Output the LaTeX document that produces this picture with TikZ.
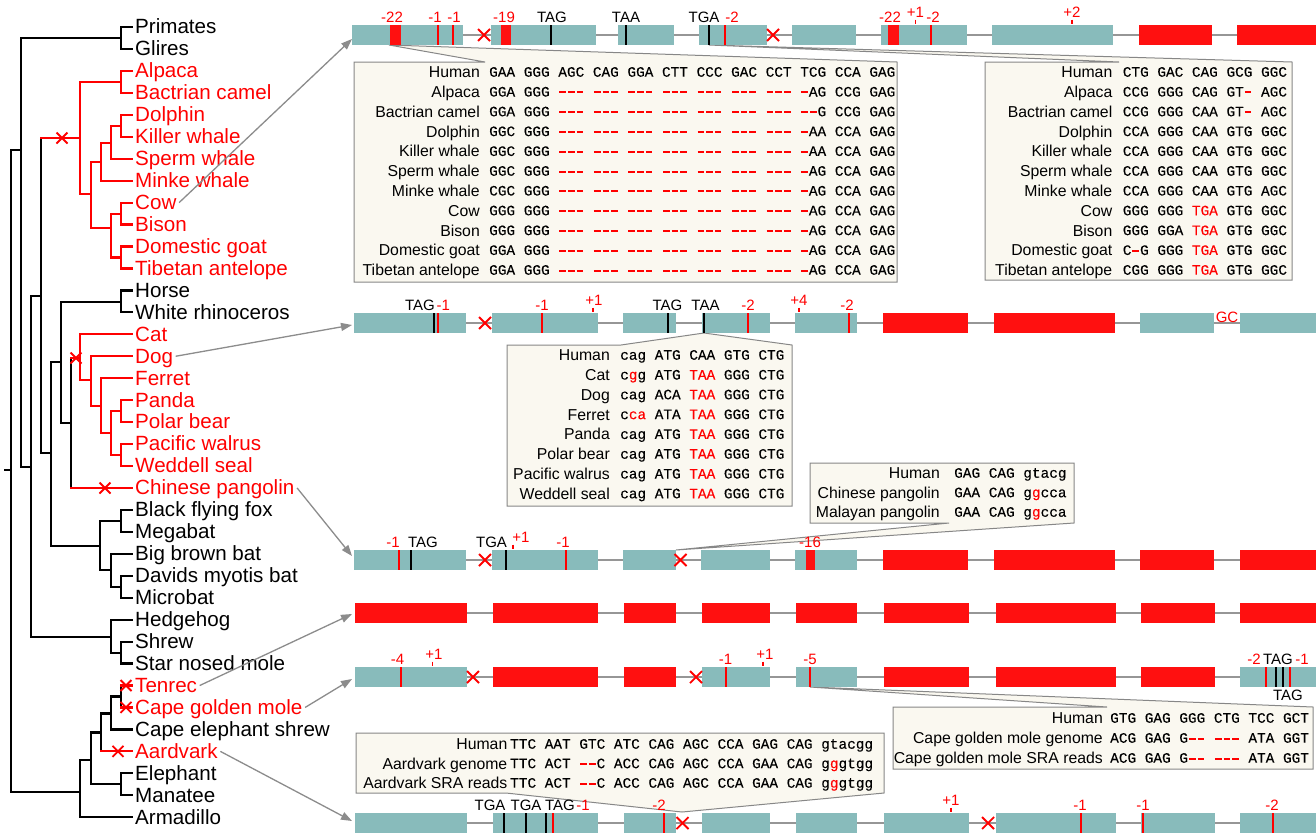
\documentclass[tikz,border=0pt]{standalone}
\usepackage{fontspec}
\setmainfont{Liberation Sans}
\setmonofont{Liberation Mono}[FakeBold=0.2]
\usetikzlibrary{arrows.meta}
\definecolor{exon}{RGB}{136,187,187}
\definecolor{exred}{RGB}{255,16,16}
\definecolor{mred}{RGB}{255,0,0}
\definecolor{intr}{RGB}{150,150,150}
\definecolor{cfill}{RGB}{250,248,240}
\definecolor{cline}{RGB}{135,135,135}
\definecolor{agray}{RGB}{140,140,140}
\newcommand\R[1]{\textcolor{mred}{#1}}
\newcommand\dsh{\makebox[0.6em]{\rule[0.22em]{0.46em}{0.14em}}}
\newcommand\ddd{\dsh\dsh\dsh}
\newcommand\delA{\R{\ddd{} \ddd{} \ddd{} \ddd{} \ddd{} \ddd{} \ddd{} \dsh}}
\newcommand\delB{\R{\ddd{} \ddd{} \ddd{} \ddd{} \ddd{} \ddd{} \ddd{} \dsh\dsh}}
\newcommand\Xm[3]{\draw[xline] (#1-#3,#2-#3) -- (#1+#3,#2+#3) (#1-#3,#2+#3) -- (#1+#3,#2-#3);}
\tikzset{
 tb/.style={line width=2.2pt, line cap=rect, line join=miter},
 xline/.style={draw=mred, line width=1.8pt},
 leaf/.style={anchor=west, inner xsep=2.5pt, inner ysep=0pt, text height=14.3pt, text depth=0.6pt, font=\fontsize{20.6}{24}\selectfont},
 callout/.style={fill=cfill, draw=cline, line width=1pt, line join=miter},
 blab/.style={anchor=east, inner sep=0pt, text height=11.3pt, text depth=0pt, font=\fontsize{15.8}{19}\selectfont},
 sq/.style={anchor=west, inner sep=0pt, text height=9.4pt, text depth=0pt, font=\ttfamily\fontsize{14.4}{17}\selectfont},
 elab/.style={anchor=base, inner sep=0pt, font=\fontsize{15}{17}\selectfont},
 rlab/.style={elab, text=mred},
 tickm/.style={draw=mred, line width=1.2pt},
 mk/.style={line width=2pt},
 intron/.style={draw=intr, line width=2pt},
 garrow/.style={draw=agray, line width=1.3pt, -{Triangle[length=11pt,width=8pt]}}
}
\begin{document}
\begin{tikzpicture}[x=1pt,y=-1pt]
\useasboundingbox (0,0) rectangle (1316,833);
\fill[white] (0,0) rectangle (1316,833);

% ---------------- callout boxes ----------------
\draw[callout] (354,62) -- (485,62) -- (389,45) -- (897,62) -- (897,282) -- (354,282) -- cycle;
\draw[callout] (985,62) -- (1119,62) -- (709,45) -- (1292,62) -- (1292,280) -- (985,280) -- cycle;
\draw[callout] (507,345) -- (621,345) -- (704,333) -- (792,345) -- (792,506) -- (507,506) -- cycle;
\draw[callout] (810,463) -- (1074,463) -- (1074,523) -- (676,550) -- (949,523) -- (810,523) -- cycle;
\draw[callout] (893,707) -- (1107,707) -- (810,687) -- (1313,707) -- (1313,769) -- (893,769) -- cycle;
\draw[callout] (356,733) -- (884,733) -- (884,793) -- (682,812) -- (506,793) -- (356,793) -- cycle;

% ---------------- row 1 ----------------
\draw[intron] (352,35) -- (1316,35);
\foreach \a/\b/\c in {352/463/exon,491/596/exon,618/674/exon,699/767/exon,792/856/exon,881/967/exon,992/1113/exon,1139/1212/exred,1237/1316/exred}
  \fill[\c] (\a,25) rectangle (\b,45);
\fill[exred] (390,25) rectangle (400.5,45);
\fill[exred] (500.5,25) rectangle (510.5,45);
\fill[exred] (888,25) rectangle (899,45);
\draw[mk,mred] (438,25) -- (438,45);
\draw[mk,mred] (452.5,25) -- (452.5,45);
\draw[mk,black] (551,25) -- (551,45);
\draw[mk,black] (625.6,25) -- (625.6,45);
\draw[mk,black] (708.6,25) -- (708.6,45);
\draw[mk,mred] (725,25) -- (725,45);
\draw[mk,mred] (931,25) -- (931,45);
\draw[tickm] (915.5,19.5) -- (915.5,23.5);
\draw[tickm] (1072,19.5) -- (1072,23.5);
\Xm{484}{35}{6}
\Xm{773}{35}{6}
\node[rlab] (r1a) at (392,22.5) {-22};
\node[rlab] (r1b) at (435,22.5) {-1};
\node[rlab] (r1c) at (454,22.5) {-1};
\node[rlab] (r1d) at (504,22.5) {-19};
\node[elab] (r1e) at (552,22.5) {TAG};
\node[elab] (r1f) at (626,22.5) {TAA};
\node[elab] (r1g) at (704,22.5) {TGA};
\node[rlab] (r1h) at (732,22.5) {-2};
\node[rlab] (r1i) at (890,22.5) {-22};
\node[rlab] (r1j) at (915.5,17) {+1};
\node[rlab] (r1k) at (933,22.5) {-2};
\node[rlab] (r1l) at (1072,17) {+2};

% ---------------- row 2 ----------------
\draw[intron] (354,323) -- (1316,323);
\foreach \a/\b/\c in {354/466/exon,492/598/exon,623/676/exon,702/770/exon,795/857/exon,883/968/exred,994/1115/exred,1140/1214/exon,1240/1316/exon}
  \fill[\c] (\a,313) rectangle (\b,333);
\draw[mk,black] (434,313) -- (434,333);
\draw[mk,mred] (438,313) -- (438,333);
\draw[mk,mred] (542,313) -- (542,333);
\draw[mk,black] (668,313) -- (668,333);
\draw[mk,black] (704,313) -- (704,333);
\draw[mk,mred] (748,313) -- (748,333);
\draw[mk,mred] (849,313) -- (849,333);
\draw[tickm] (593,307.5) -- (593,311.5);
\draw[tickm] (799,307.5) -- (799,311.5);
\Xm{485}{323}{6}
\node[elab,anchor=base east] (r2a) at (435,310.5) {TAG};
\node[rlab,anchor=base west] (r2b) at (436.5,310.5) {-1};
\node[rlab] (r2c) at (542,310.5) {-1};
\node[rlab] (r2d) at (594,305) {+1};
\node[elab] (r2e) at (667.5,310.5) {TAG};
\node[elab] (r2f) at (705.5,310.5) {TAA};
\node[rlab] (r2g) at (748,310.5) {-2};
\node[rlab] (r2h) at (799,305) {+4};
\node[rlab] (r2i) at (847,310.5) {-2};
\node[rlab] (r2j) at (1227,322) {GC};

% ---------------- row 3 ----------------
\draw[intron] (354,560) -- (1316,560);
\foreach \a/\b/\c in {354/466/exon,492/598/exon,623/676/exon,701/770/exon,795/857/exon,883/968/exred,994/1115/exred,1140/1214/exred,1240/1316/exred}
  \fill[\c] (\a,550) rectangle (\b,570);
\fill[exred] (805.5,550) rectangle (815,570);
\draw[mk,mred] (399,550) -- (399,570);
\draw[mk,black] (410.6,550) -- (410.6,570);
\draw[mk,black] (506,550) -- (506,570);
\draw[mk,mred] (566,550) -- (566,570);
\draw[tickm] (513,544.5) -- (513,548.5);
\Xm{485}{560}{6}
\Xm{680.5}{560}{6}
\node[rlab] (r3a) at (393,547.5) {-1};
\node[elab] (r3b) at (423,547.5) {TAG};
\node[elab] (r3c) at (491.5,547.5) {TGA};
\node[rlab] (r3d) at (521,542) {+1};
\node[rlab] (r3e) at (563,547.5) {-1};
\node[rlab] (r3f) at (810,547.5) {-16};

% ---------------- row 4 ----------------
\draw[intron] (355,613) -- (1316,613);
\foreach \a/\b in {355/467,493/598,624/676,702/770,796/857,884/969,996/1116,1141/1215,1240/1316}
  \fill[exred] (\a,603) rectangle (\b,623);

% ---------------- row 5 ----------------
\draw[intron] (355,677) -- (1316,677);
\foreach \a/\b/\c in {355/467/exon,493/598/exred,624/676/exred,702/770/exon,796/857/exon,884/969/exred,996/1116/exred,1141/1215/exred,1240/1316/exon}
  \fill[\c] (\a,667) rectangle (\b,687);
\draw[mk,mred] (401,667) -- (401,687);
\draw[mk,mred] (725.5,667) -- (725.5,687);
\draw[mk,mred] (810,667) -- (810,687);
\draw[mk,mred] (1266,667) -- (1266,687);
\draw[mk,black] (1276,667) -- (1276,687);
\draw[mk,black] (1282.5,667) -- (1282.5,687);
\draw[mk,mred] (1290,667) -- (1290,687);
\draw[tickm] (432.5,661.5) -- (432.5,665.5);
\draw[tickm] (763,661.5) -- (763,665.5);
\Xm{473}{677}{6}
\Xm{696}{677}{6}
\node[rlab] (r5a) at (397.5,664.5) {-4};
\node[rlab] (r5b) at (434,659) {+1};
\node[rlab] (r5c) at (725.5,664.5) {-1};
\node[rlab] (r5d) at (765,659) {+1};
\node[rlab] (r5e) at (810,664.5) {-5};
\node[rlab] (r5f) at (1254,664.5) {-2};
\node[elab] (r5g) at (1278,664.5) {TAG};
\node[rlab] (r5h) at (1302,664.5) {-1};
\node[elab] (r5i) at (1288,700.5) {TAG};

% ---------------- row 6 ----------------
\draw[intron] (355,823) -- (1316,823);
\foreach \a/\b in {355/467,493/598,624/676,702/770,796/857,884/969,996/1116,1141/1215,1240/1316}
  \fill[exon] (\a,813) rectangle (\b,833);
\draw[mk,black] (504,813) -- (504,833);
\draw[mk,black] (526,813) -- (526,833);
\draw[mk,black] (546,813) -- (546,833);
\draw[mk,mred] (552.5,813) -- (552.5,833);
\draw[mk,mred] (664,813) -- (664,833);
\draw[mk,mred] (1080.5,813) -- (1080.5,833);
\draw[mk,mred] (1143,813) -- (1143,833);
\draw[mk,mred] (1272.5,813) -- (1272.5,833);
\draw[tickm] (951,807.5) -- (951,811.5);
\Xm{682.5}{823}{6}
\Xm{988}{823}{6}
\node[elab] (r6a) at (490,810.5) {TGA};
\node[elab] (r6b) at (526,810.5) {TGA};
\node[elab] (r6c) at (560,810.5) {TAG};
\node[rlab] (r6d) at (583,810.5) {-1};
\node[rlab] (r6e) at (659,810.5) {-2};
\node[rlab] (r6f) at (951,805) {+1};
\node[rlab] (r6g) at (1080,810.5) {-1};
\node[rlab] (r6h) at (1143,810.5) {-1};
\node[rlab] (r6i) at (1272,810.5) {-2};

% ---------------- box texts ----------------
\foreach \k/\n/\s in {0/Human/{GAA GGG AGC CAG GGA CTT CCC GAC CCT TCG CCA GAG},
 1/Alpaca/{GGA GGG \delA AG CCG GAG},
 2/Bactrian camel/{GGA GGG \delB G CCG GAG},
 3/Dolphin/{GGC GGG \delA AA CCA GAG},
 4/Killer whale/{GGC GGG \delA AA CCA GAG},
 5/Sperm whale/{GGC GGG \delA AG CCA GAG},
 6/Minke whale/{CGC GGG \delA AG CCA GAG},
 7/Cow/{GGG GGG \delA AG CCA GAG},
 8/Bison/{GGG GGG \delA AG CCA GAG},
 9/Domestic goat/{GGA GGG \delA AG CCA GAG},
 10/Tibetan antelope/{GGA GGG \delA AG CCA GAG}}
{
 \node[blab] (bal\k) at (480,72+19.8*\k) {\n};
 \node[sq] (bas\k) at (489,72+19.8*\k) {\s};
}
\foreach \k/\n/\s in {0/Human/{CTG GAC CAG GCG GGC},
 1/Alpaca/{CCG GGG CAG GT\R{\dsh} AGC},
 2/Bactrian camel/{CCG GGG CAA GT\R{\dsh} AGC},
 3/Dolphin/{CCA GGG CAA GTG GGC},
 4/Killer whale/{CCA GGG CAA GTG GGC},
 5/Sperm whale/{CCA GGG CAA GTG GGC},
 6/Minke whale/{CCA GGG CAA GTG AGC},
 7/Cow/{GGG GGG \R{TGA} GTG GGC},
 8/Bison/{GGG GGA \R{TGA} GTG GGC},
 9/Domestic goat/{C\R{\dsh}G GGG \R{TGA} GTG GGC},
 10/Tibetan antelope/{CGG GGG \R{TGA} GTG GGC}}
{
 \node[blab] (bbl\k) at (1112.5,72+19.8*\k) {\n};
 \node[sq] (bbs\k) at (1122.6,72+19.8*\k) {\s};
}
\foreach \k/\n/\s in {0/Human/{cag ATG CAA GTG CTG},
 1/Cat/{c\R{g}g ATG \R{TAA} GGG CTG},
 2/Dog/{cag ACA \R{TAA} GGG CTG},
 3/Ferret/{c\R{ca} ATA \R{TAA} GGG CTG},
 4/Panda/{cag ATG \R{TAA} GGG CTG},
 5/Polar bear/{cag ATG \R{TAA} GGG CTG},
 6/Pacific walrus/{cag ATG \R{TAA} GGG CTG},
 7/Weddell seal/{cag ATG \R{TAA} GGG CTG}}
{
 \node[blab] (bcl\k) at (610,355+19.8*\k) {\n};
 \node[sq] (bcs\k) at (620,355+19.8*\k) {\s};
}
\foreach \k/\n/\s in {0/Human/{GAG CAG gtacg},
 1/Chinese pangolin/{GAA CAG g\R{g}cca},
 2/Malayan pangolin/{GAA CAG g\R{g}cca}}
{
 \node[blab] (bdl\k) at (940,473+19.5*\k) {\n};
 \node[sq] (bds\k) at (954,473+19.5*\k) {\s};
}
\foreach \k/\n/\s in {0/Human/{GTG GAG GGG CTG TCC GCT},
 1/Cape golden mole genome/{ACG GAG G\R{\dsh\dsh} \R{\ddd} ATA GGT},
 2/Cape golden mole SRA reads/{ACG GAG G\R{\dsh\dsh} \R{\ddd} ATA GGT}}
{
 \node[blab] (bel\k) at (1103,718+20*\k) {\n};
 \node[sq] (bes\k) at (1110,718+20*\k) {\s};
}
\foreach \k/\n/\s in {0/Human/{TTC AAT GTC ATC CAG AGC CCA GAG CAG gtacgg},
 1/Aardvark genome/{TTC ACT \R{\dsh\dsh}C ACC CAG AGC CCA GAA CAG g\R{g}gtgg},
 2/Aardvark SRA reads/{TTC ACT \R{\dsh\dsh}C ACC CAG AGC CCA GAA CAG g\R{g}gtgg}}
{
 \node[blab] (bfl\k) at (507.5,744+19.5*\k) {\n};
 \node[sq] (bfs\k) at (510,744+19.5*\k) {\s};
}

% ---------------- tree (black) ----------------
\begin{scope}[tb]
\draw (132,27) -- (121,27) -- (121,48.95) -- (132,48.95);
\draw (121,38) -- (21,38) -- (21,467) -- (31,467);
\draw (5,470) -- (11,470);
\draw (21,150) -- (11,150) -- (11,792) -- (80,792);
\draw (41,296) -- (31,296) -- (31,637) -- (111,637);
\draw (41,138) -- (41,453) -- (51,453);
\draw (61,362) -- (51,362) -- (51,546) -- (100,546);
\draw (121,302) -- (61,302) -- (61,423) -- (71,423);
\draw (132,290.4) -- (121,290.4) -- (121,312.35) -- (132,312.35);
\draw (71,358) -- (71,488);
% bats
\draw (121,521) -- (100,521) -- (100,570) -- (111,570);
\draw (132,509.9) -- (121,509.9) -- (121,531.85) -- (132,531.85);
\draw (132,553.8) -- (111,553.8) -- (111,586.7) -- (121,586.7);
\draw (132,575.75) -- (121,575.75) -- (121,597.7) -- (132,597.7);
% eulipotyphla
\draw (132,619.65) -- (111,619.65) -- (111,652.6) -- (121,652.6);
\draw (132,641.6) -- (121,641.6) -- (121,663.55) -- (132,663.55);
% afrotheria + xenarthra
\draw (91,760) -- (80,760) -- (80,817.2) -- (132,817.2);
\draw (101,732.4) -- (91,732.4) -- (91,784.3) -- (121,784.3);
\draw (132,773.3) -- (121,773.3) -- (121,795.25) -- (132,795.25);
\draw (111,713.4) -- (101,713.4) -- (101,751.35);
\draw (121,696.5) -- (111,696.5) -- (111,729.4) -- (132,729.4);
\draw (121,685.5) -- (121,707.45);
\end{scope}

% ---------------- tree (red) ----------------
\begin{scope}[tb,draw=mred]
\draw (41,138) -- (80,138);
\draw (121,82) -- (80,82) -- (80,194) -- (91,194);
\draw (132,70.9) -- (121,70.9) -- (121,92.85) -- (132,92.85);
\draw (101,162) -- (91,162) -- (91,228) -- (111,228);
\draw (111,143) -- (101,143) -- (101,180.65) -- (132,180.65);
\draw (121,125.8) -- (111,125.8) -- (111,158.7) -- (132,158.7);
\draw (132,114.8) -- (121,114.8) -- (121,136.75) -- (132,136.75);
\draw (121,213.6) -- (111,213.6) -- (111,257.5) -- (121,257.5);
\draw (132,202.6) -- (121,202.6) -- (121,224.55) -- (132,224.55);
\draw (132,246.5) -- (121,246.5) -- (121,268.45) -- (132,268.45);
% carnivora
\draw (71,358) -- (80,358);
\draw (132,334.3) -- (80,334.3) -- (80,380) -- (91,380);
\draw (132,356.25) -- (91,356.25) -- (91,406) -- (101,406);
\draw (132,378.2) -- (101,378.2) -- (101,433) -- (111,433);
\draw (121,411.1) -- (111,411.1) -- (111,455) -- (121,455);
\draw (132,400.15) -- (121,400.15) -- (121,422.1) -- (132,422.1);
\draw (132,444.05) -- (121,444.05) -- (121,466) -- (132,466);
% single leaves
\draw (71,488) -- (132,488);
\draw (121,685.5) -- (132,685.5);
\draw (121,707.45) -- (132,707.45);
\draw (101,751.35) -- (132,751.35);
\end{scope}
\Xm{62}{138}{5.5}
\Xm{76}{358}{5.5}
\Xm{105}{488}{5.5}
\Xm{126}{685.5}{5.5}
\Xm{126}{707.45}{5.5}
\Xm{118}{751.35}{5.5}

% ---------------- leaf labels ----------------
\foreach \i/\nm/\t/\c in {0/primates/Primates/black, 1/glires/Glires/black,
 2/alpaca/Alpaca/mred, 3/bactrian/Bactrian camel/mred, 4/dolphin/Dolphin/mred,
 5/killer/Killer whale/mred, 6/sperm/Sperm whale/mred, 7/minke/Minke whale/mred,
 8/cow/Cow/mred, 9/bison/Bison/mred, 10/goat/Domestic goat/mred,
 11/antelope/Tibetan antelope/mred, 12/horse/Horse/black, 13/rhino/White rhinoceros/black,
 14/cat/Cat/mred, 15/dog/Dog/mred, 16/ferret/Ferret/mred, 17/panda/Panda/mred,
 18/polar/Polar bear/mred, 19/walrus/Pacific walrus/mred, 20/seal/Weddell seal/mred,
 21/pangolin/Chinese pangolin/mred, 22/flyingfox/Black flying fox/black,
 23/megabat/Megabat/black, 24/brownbat/Big brown bat/black, 25/myotis/Davids myotis bat/black,
 26/microbat/Microbat/black, 27/hedgehog/Hedgehog/black, 28/shrew/Shrew/black,
 29/starmole/Star nosed mole/black, 30/tenrec/Tenrec/mred, 31/goldenmole/Cape golden mole/mred,
 32/eshrew/Cape elephant shrew/black, 33/aardvark/Aardvark/mred, 34/elephant/Elephant/black,
 35/manatee/Manatee/black, 36/armadillo/Armadillo/black}
 \node[leaf,text=\c] (\nm) at (132.5,27+21.95*\i) {\t};

% ---------------- arrows ----------------
\coordinate (t1) at (352,39);
\coordinate (t2) at (352,325);
\coordinate (t3) at (352,556);
\coordinate (t4) at (352,614);
\coordinate (t5) at (352,679);
\coordinate (t6) at (352,821);
\draw[garrow] (cow.east) -- (t1);
\draw[garrow] (dog.east) -- (t2);
\draw[garrow] (pangolin.east) -- (t3);
\draw[garrow] (tenrec.east) -- (t4);
\draw[garrow] (goldenmole.east) -- (t5);
\draw[garrow] (aardvark.east) -- (t6);
\end{tikzpicture}
\end{document}
